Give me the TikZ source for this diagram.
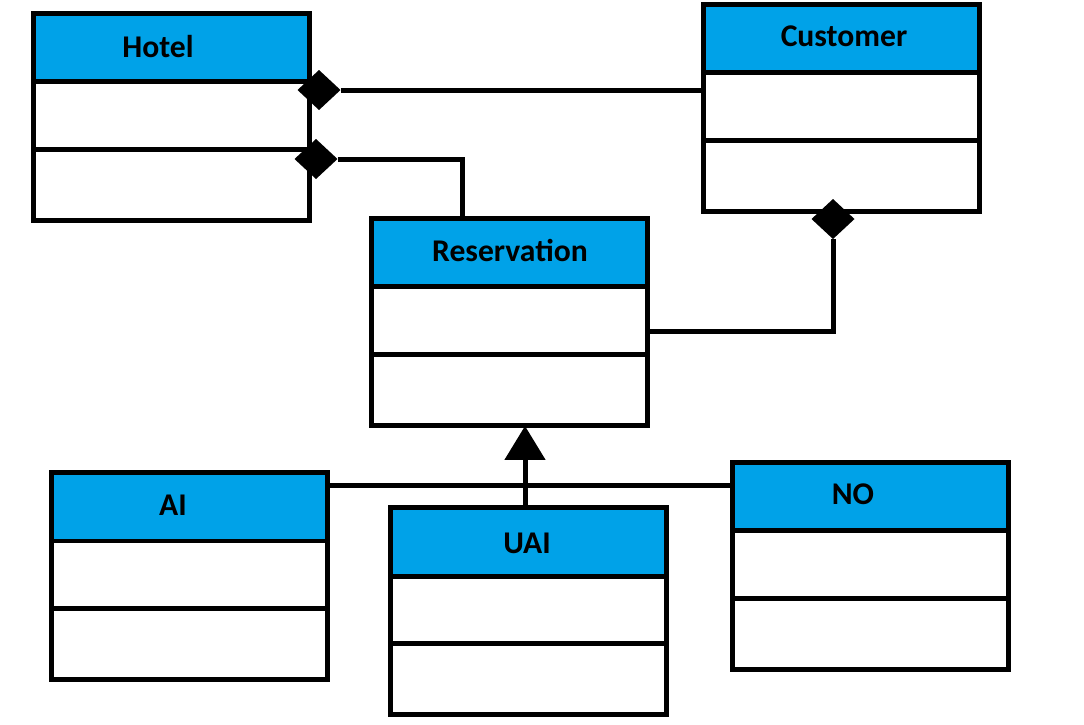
\documentclass[tikz,border=0pt]{standalone}
\usepackage{fontspec}
\setmainfont{Carlito}
\usepackage{tikz}
\usetikzlibrary{calc, shapes.geometric, arrows.meta, positioning}

\definecolor{headblue}{RGB}{0,162,232}

\begin{document}
\begin{tikzpicture}[%
    x=0.02cm, y=-0.02cm,  % one unit = one pixel of the sketch
    node distance=0pt,    % compartments touch
    line width=0.1cm,
    every node/.style={outer sep=0pt},
    classhead/.style={draw, fill=headblue, minimum width=5.54cm, minimum height=1.38cm, inner sep=0pt},
    classmid/.style={draw, fill=white, minimum width=5.54cm, minimum height=1.36cm, inner sep=0pt},
    classlow/.style={draw, fill=white, minimum width=5.54cm, minimum height=1.42cm, inner sep=0pt},
    classname/.style={font=\bfseries\fontsize{18}{21}\selectfont, inner sep=0pt},
    compdiamond/.style={diamond, fill=black, minimum width=0.86cm, minimum height=0.8cm, inner sep=0pt},
    genarrow/.style={-{Triangle[length=0.68cm, width=0.8cm]}},
    ]

\useasboundingbox (0,0) rectangle (1084,724);

%==================================================
% Classes
%==================================================
% Hotel
\node[classhead, anchor=north west] (hotel) at (33,13) {};
\node[classmid, below=of hotel]  (hotelA) {};
\node[classlow, below=of hotelA] (hotelO) {};
\node[classname] (hotelN) at (158,47) {Hotel};

% Customer
\node[classhead, anchor=north west] (cust) at (703,4) {};
\node[classmid, below=of cust]  (custA) {};
\node[classlow, below=of custA] (custO) {};
\node[classname] (custN) at (844,36) {Customer};

% Reservation
\node[classhead, anchor=north west] (resv) at (371,218) {};
\node[classmid, below=of resv]  (resvA) {};
\node[classlow, below=of resvA] (resvO) {};
\node[classname] (resvN) at (510,250) {Reservation};

% AI
\node[classhead, anchor=north west] (ai) at (51,472) {};
\node[classmid, below=of ai]  (aiA) {};
\node[classlow, below=of aiA] (aiO) {};
\node[classname] (aiN) at (173,505) {AI};

% UAI
\node[classhead, anchor=north west] (uai) at (390,507) {};
\node[classmid, below=of uai]  (uaiA) {};
\node[classlow, below=of uaiA] (uaiO) {};
\node[classname] (uaiN) at (527,543) {UAI};

% NO
\node[classhead, anchor=north west] (no) at (732,462) {};
\node[classmid, below=of no]  (noA) {};
\node[classlow, below=of noA] (noO) {};
\node[classname] (noN) at (853,494) {NO};

%==================================================
% Compositions
%==================================================
\node[compdiamond] (dHC) at (319,90) {};
\node[compdiamond] (dHR) at (316,159) {};
\node[compdiamond] (dCR) at (833,219) {};

\coordinate (cHR) at (462,159);
\coordinate (cCR) at (833,331);

\draw (dHC.east) -- (dHC.east -| custA.west);
\draw (dHR.east) -- (cHR) -- (cHR |- resv.north);
\draw (dCR.south) -- (cCR) -- (cCR -| resvA.east);

%==================================================
% Generalization
%==================================================
\coordinate (gen) at (525,485);

\draw (gen -| ai.east) -- (gen -| no.west);
\draw[genarrow] (gen |- uai.north) -- (gen |- resvO.south);

%==================================================
\end{tikzpicture}
\end{document}
